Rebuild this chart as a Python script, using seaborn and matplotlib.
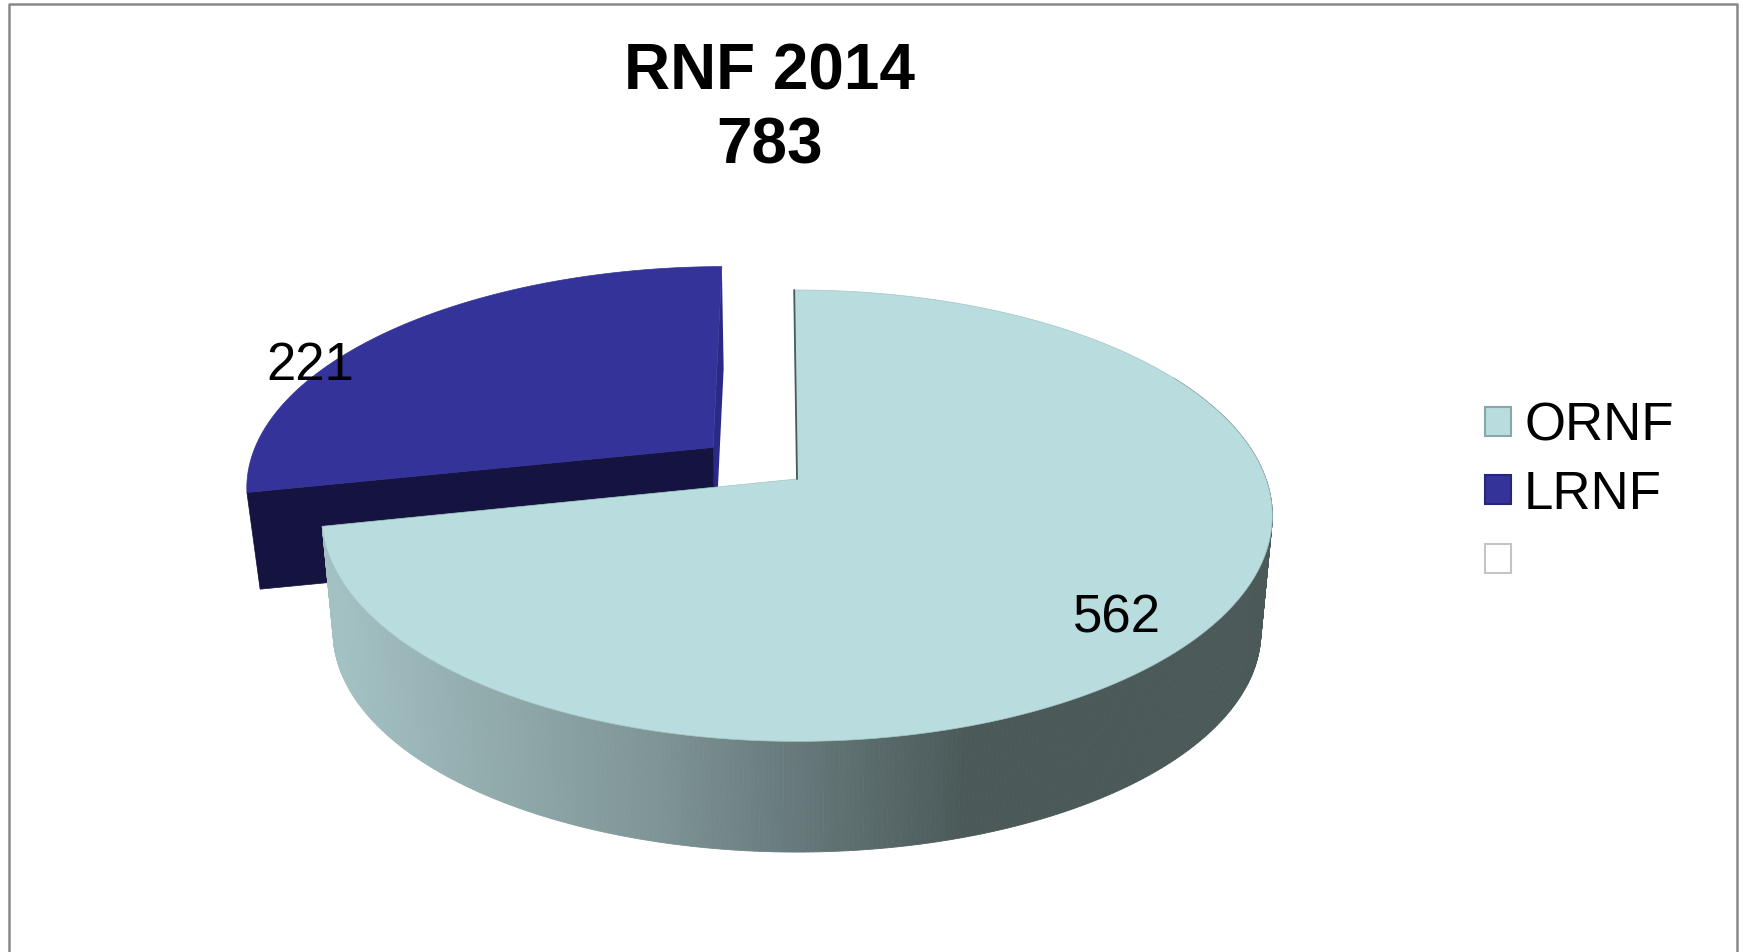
import numpy as np
import matplotlib
matplotlib.use('Agg')
import matplotlib.pyplot as plt
from matplotlib.patches import Patch
import seaborn as sns

title = 'RNF 2014'
categories = ['ORNF', 'LRNF', '']
values = [562, 221, 0]
explode = [0, 0.235, 0]
top_colors = ['#b9dcde', '#333399', '#ffffff']
legend_edges = ['#8aa6a8', '#25257a', '#c4c4c4']

# perspective of the pie, in pixels of the 1743x953 picture
CX, CY = 797, 480
A, B, K = 219.7, 469, -0.1626
START = -0.4
SHRINK = 0.976
MAIN_DROP = 117
BLUE_DROP = 97


def project(u, v, drop=0, shrink=1.0):
    w = 1 + K * v
    return CX + shrink * B * u / w, CY + drop + shrink * A * v / w


def slice_xy(a0, a1, e_u=0, e_v=0, drop=0, shrink=1.0, n=200):
    t = np.radians(np.linspace(a0, a1, n))
    return project(np.sin(t) + e_u, -np.cos(t) + e_v, drop, shrink)


sns.set_theme(style='white')
plt.rcParams['font.family'] = ['Liberation Sans', 'DejaVu Sans']

fig, ax = plt.subplots(figsize=(17.43, 9.53), dpi=100)
ax.set_position([0, 0, 1, 1])
ax.set_xlim(0, 1743)
ax.set_ylim(953, 0)
ax.axis('off')

# chart frame, open at the bottom
ax.plot([9, 9, 1737, 1737], [953, 5, 5, 953], color='#888888', lw=1.8)

angles = np.cumsum([0] + values) / sum(values) * 360 + START
a0, a1, a2 = angles[0], angles[1], angles[2]

# exploded slice
mid = np.radians((a1 + a2) / 2)
e_u, e_v = explode[1] * np.sin(mid), -explode[1] * np.cos(mid)
t_end = np.radians(a2)
tip = project(e_u, e_v)
tip_low = project(e_u, e_v, BLUE_DROP, SHRINK)
out = project(np.sin(t_end) + e_u, -np.cos(t_end) + e_v)
out_low = project(np.sin(t_end) + e_u, -np.cos(t_end) + e_v, BLUE_DROP, SHRINK)
t_start = np.radians(a1)
left = project(np.sin(t_start) + e_u, -np.cos(t_start) + e_v)
left_low = project(np.sin(t_start) + e_u, -np.cos(t_start) + e_v, BLUE_DROP, SHRINK)
ax.fill(*zip(tip, out, out_low, tip_low), color='#2a2a86', lw=0)
ax.fill(*zip(tip, left, left_low, tip_low), color='#15133f', lw=0.5)
bx, by = slice_xy(a1, a2, e_u, e_v)
ax.fill(np.r_[tip[0], bx], np.r_[tip[1], by], color=top_colors[1], lw=0.5)

# main slice wall, shaded left to right (back part is hidden, skip it)
shades = sns.blend_palette(['#a3c0c2', '#7f9597', '#4b5959'], 256)
ang = np.linspace(a0, a1, 500)
ux, uy = slice_xy(a0, a1, n=500)
lx, ly = slice_xy(a0, a1, drop=MAIN_DROP, shrink=SHRINK, n=500)
for i in range(499):
    if ang[i] < 60:
        continue
    xm = (lx[i] + lx[i + 1]) / 2
    c = shades[int(np.clip((xm - 345) / (960 - 345), 0, 1) * 255)]
    ax.fill([ux[i], ux[i + 1], lx[i + 1], lx[i]], [uy[i], uy[i + 1], ly[i + 1], ly[i]],
            color=c, lw=0.6)

# main slice top
ax.fill(np.r_[CX, ux], np.r_[CY, uy], facecolor=top_colors[0], edgecolor='#a4c4c6', lw=0.5)
ax.plot([CX, ux[0]], [CY, uy[0]], color='#4b5959', lw=1.3)

# value labels
ax.text(1117, 619, str(values[0]), fontsize=38, color='black', ha='center', va='center')
ax.text(310, 366, str(values[1]), fontsize=38, color='black', ha='center', va='center')

ax.text(770, 73, title, fontsize=46, fontweight='bold', color='black', ha='center', va='center')
ax.text(770, 146, str(sum(values)), fontsize=46, fontweight='bold', color='black', ha='center', va='center')

handles = [Patch(facecolor=f, edgecolor=e, lw=1.5) for f, e in zip(top_colors, legend_edges)]
ax.legend(handles, categories, loc='upper left', bbox_to_anchor=(1485, 402), bbox_transform=ax.transData,
          frameon=False, fontsize=38, labelcolor='black', handlelength=0.5, handleheight=0.46, handletextpad=0.24,
          labelspacing=0.35, borderpad=0, borderaxespad=0)

fig.savefig('out.png', dpi=100)
